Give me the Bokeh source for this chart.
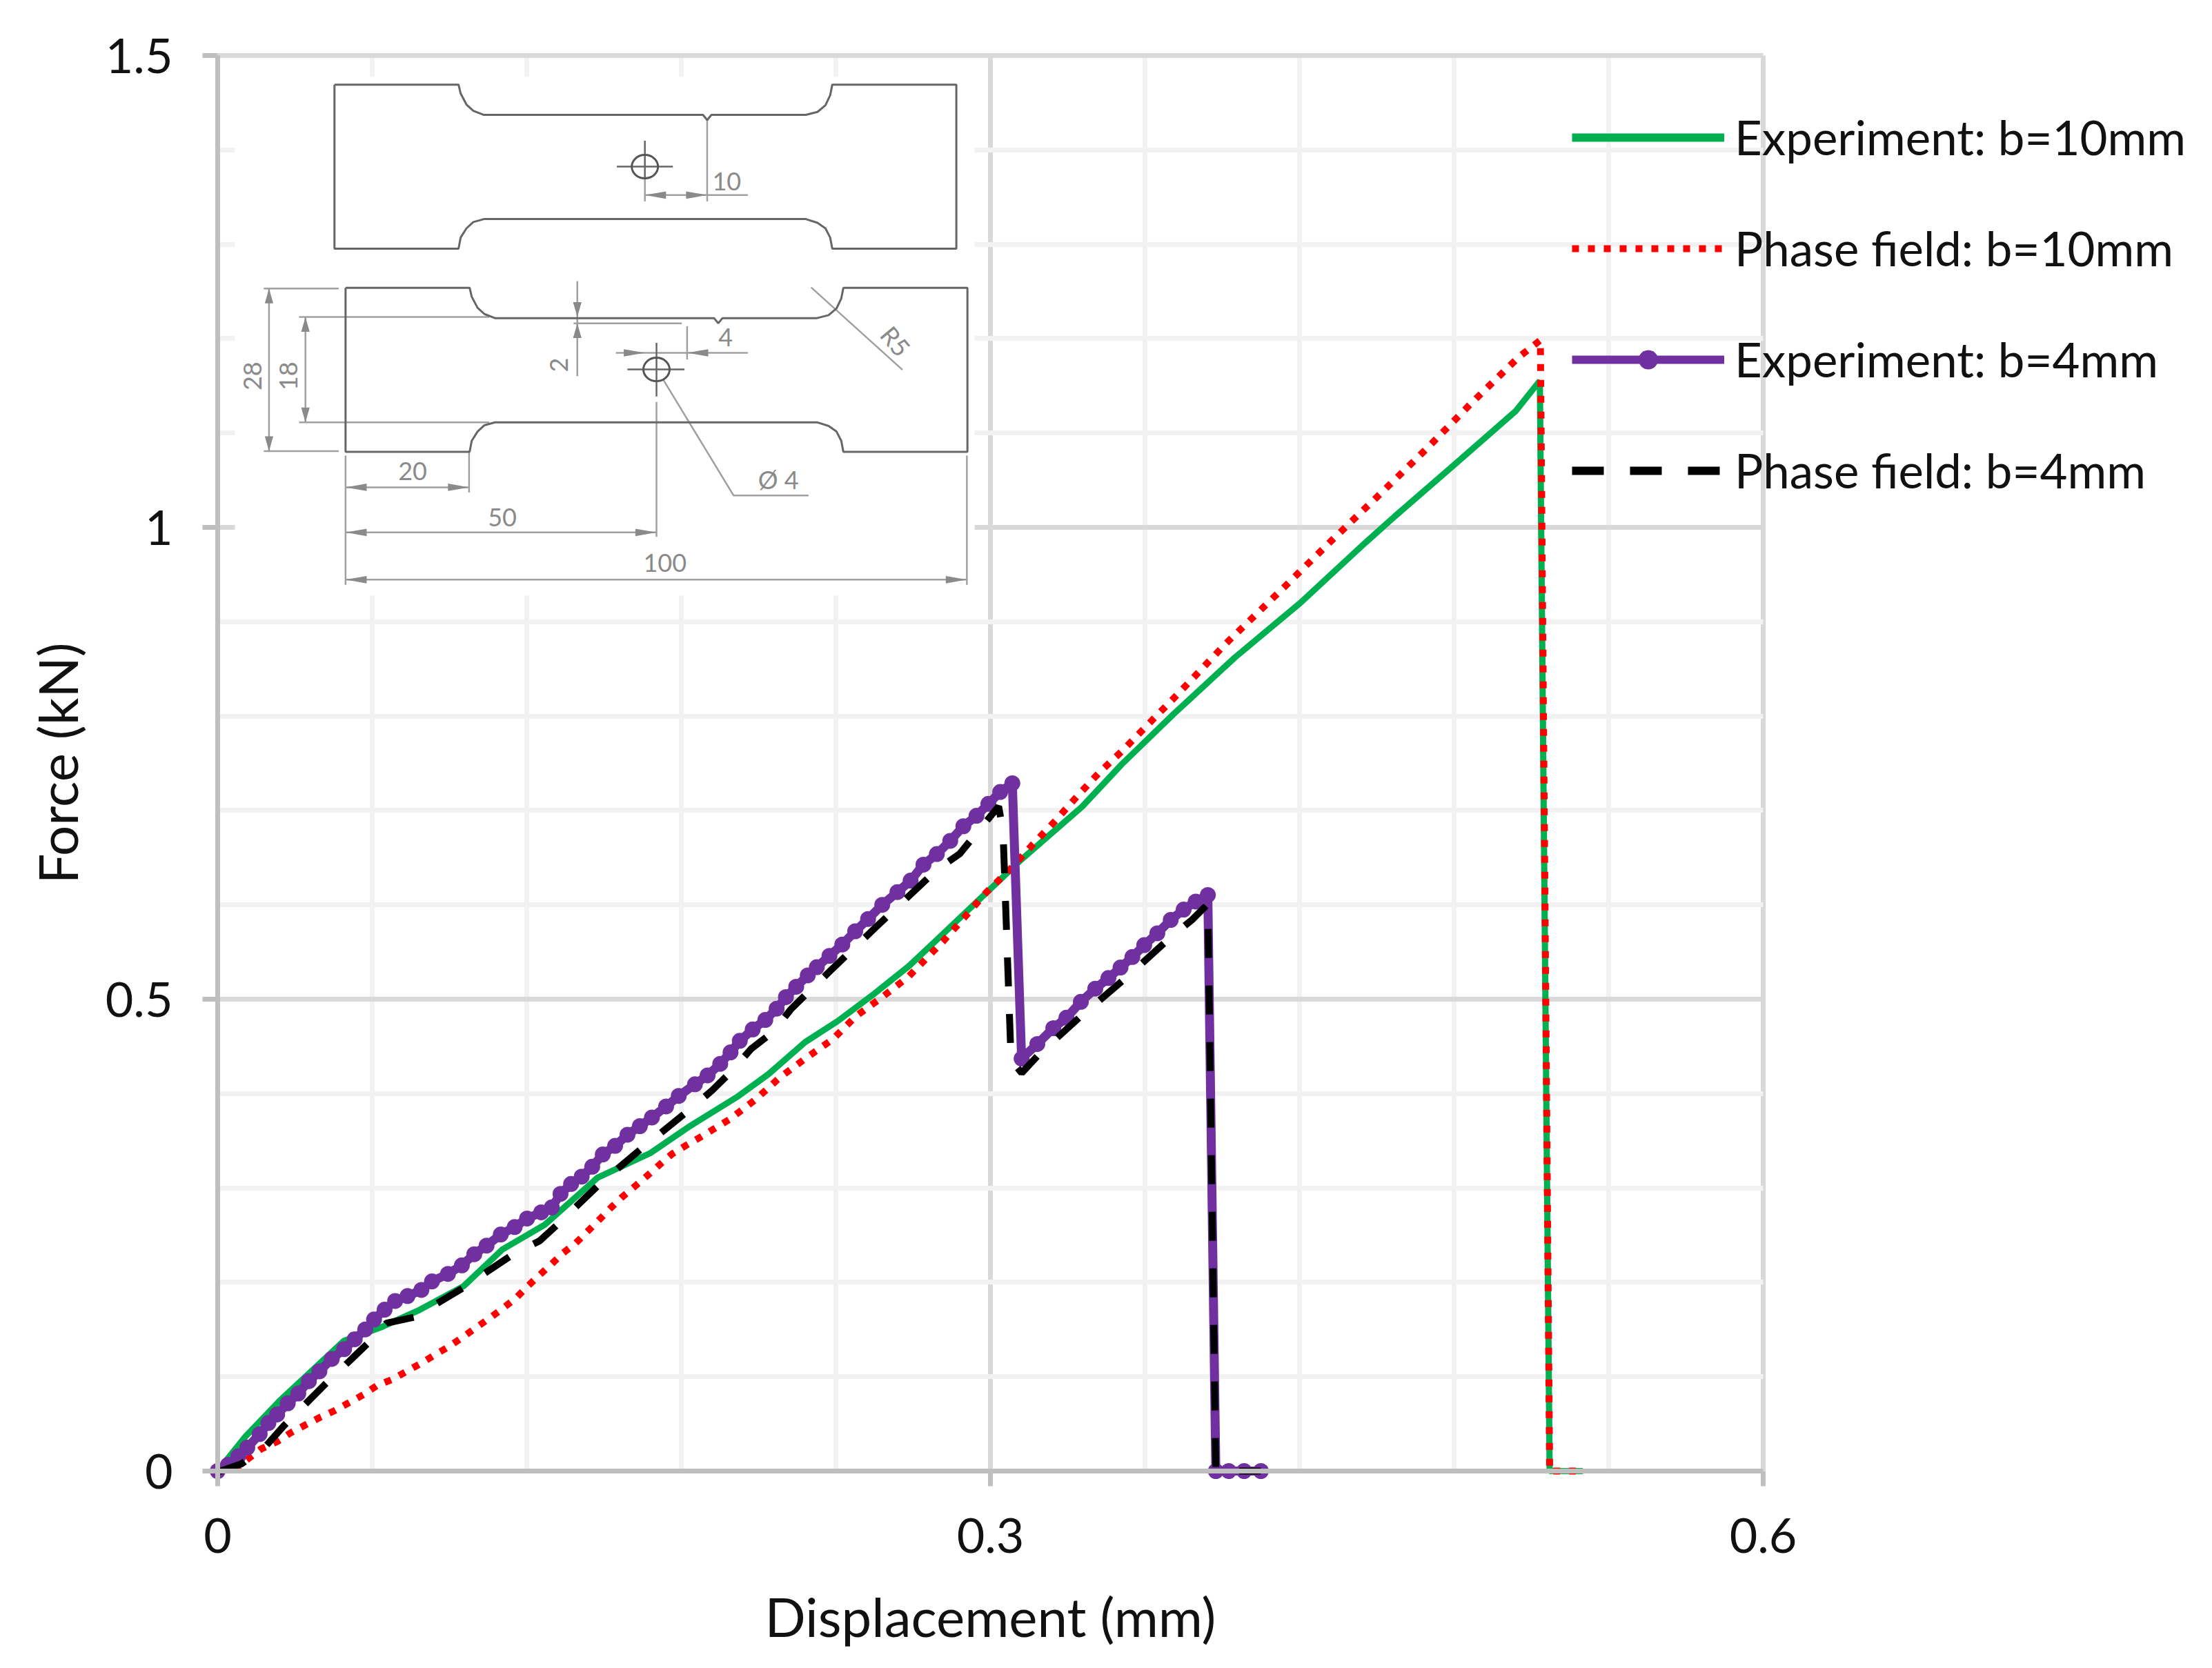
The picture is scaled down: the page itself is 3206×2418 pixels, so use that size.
from bokeh.plotting import figure
from bokeh.embed import file_html
from bokeh.resources import INLINE
from bokeh.models import FixedTicker, Legend, LegendItem, Range1d
from bokeh.core.properties import value
import math

FONT = "Lato"
x_ticks = [0, 0.3, 0.6]
x_minor = [0.06, 0.12, 0.18, 0.24, 0.36, 0.42, 0.48, 0.54]
y_ticks = [0, 0.5, 1, 1.5]
y_minor = [0.1, 0.2, 0.3, 0.4, 0.6, 0.7, 0.8, 0.9, 1.1, 1.2, 1.3, 1.4]
y_labels = {0: "0", 0.5: "0.5", 1: "1", 1.5: "1.5"}
x_labels = {0: "0", 0.3: "0.3", 0.6: "0.6"}

exp10_x = [0, .0108, .0245, .049, .064, .0778, .0955, .1106, .127, .1475, .168, .1835, .2014, .2138, .2281, .2406, .2549, .2683, .2800, .3120, .3356, .3510, .371, .3949, .4203, .4456, .4570, .4795, .5040, .5126, .5133, .5171, .530]
exp10_y = [0, .0366, .0757, .138, .153, .170, .196, .235, .261, .311, .337, .3658, .396, .4205, .4546, .4766, .5058, .535, .565, .648, .704, .749, .8019, .8621, .9200, .9839, 1.0117, 1.065, 1.1235, 1.153, 1.155, 0, 0]

pf10_x = [0, .008, .0169, .0231, .0283, .034, .0398, .0454, .0511, .0566, .0618, .0678, .0734, .0789, .0843, .0898, .0951, .1003, .1055, .1106, .1156, .1201, .1249, .1294, .1341, .139, .1436, .1481, .1525, .157, .1621, .1669, .1717, .1764, .1819, .1877, .1987, .2088, .2182, .2284, .2388, .2478, .2582, .2682, .2815, .29, .2984, .3078, .3161, .3251, .3335, .3421, .3513, .3603, .3736, .3911, .4141, .4322, .4506, .4688, .4867, .5050, .5135, .5171, .530]
pf10_y = [0, .005, .0235, .0313, .0405, .0488, .057, .064, .0726, .081, .0906, .0971, .1057, .1141, .1232, .1319, .1418, .152, .1619, .1723, .1828, .1953, .2076, .2188, .2311, .2415, .254, .2663, .2786, .2903, .3021, .3133, .325, .336, .3452, .3543, .3726, .3937, .417, .4376, .4576, .482, .5027, .524, .561, .587, .6133, .6381, .663, .6888, .7145, .7398, .7635, .7887, .8257, .8761, .9368, .9854, 1.0336, 1.0819, 1.1316, 1.1802, 1.1984, 0, 0]

exp4_x = [0, .004, .008, .0115, .0163, .0197, .0231, .0272, .0313, .0354, .0395, .0443, .0491, .0532, .0573, .0607, .0648, .0689, .0737, .0791, .0832, .0894, .0948, .0996, .1044, .1099, .1153, .1201, .1256, .1297, .1331, .1372, .1413, .1454, .1495, .1543, .1591, .1639, .1686, .1741, .1790, .1853, .1902, .1951, .1991, .2027, .2077, .2126, .2170, .2206, .2246, .2291, .2326, .2375, .2425, .2475, .2525, .2580, .2639, .269, .274, .2792, .2844, .2895, .2946, .2992, .3038, .3085, .3121, .3182, .3244, .3295, .3351, .3407, .3458, .3505, .3551, .3597, .3648, .37, .375, .3797, .3844, .3875, .3925, .3985, .405]
exp4_y = [0, .0065, .0157, .0248, .0392, .0509, .06, .0718, .0822, .0953, .1057, .1188, .1292, .1397, .1501, .1606, .171, .1802, .1854, .1919, .201, .2089, .218, .2298, .2389, .2507, .2585, .2676, .2742, .2794, .2937, .3042, .312, .3225, .3355, .3446, .3564, .3655, .3747, .3864, .3975, .4099, .4193, .4315, .4437, .4559, .468, .478, .49, .5022, .5132, .5253, .5339, .5459, .558, .572, .585, .600, .6135, .6257, .6426, .6538, .6678, .6833, .6944, .707, .7196, .7288, .4371, .4525, .4693, .4804, .4972, .5112, .5224, .5336, .5447, .5573, .5699, .584, .595, .6035, .6104, 0, 0, 0, 0]

pf4_x = [0, .0012, .0094, .019, .0258, .0415, .058, .0655, .0764, .0955, .114, .125, .1324, .1488, .1652, .183, .192, .1997, .2071, .2157, .2224, .2309, .2378, .2550, .2710, .2791, .288, .2951, .3032, .3049, .308, .3121, .3192, .3356, .3531, .3694, .3782, .3844, .3875, .405]
pf4_y = [0, 0, .0078, .0274, .0483, .0914, .1345, .1567, .1632, .1945, .2285, .244, .2624, .3055, .3433, .3825, .4035, .4242, .4474, .4656, .489, .5119, .530, .575, .6162, .637, .6539, .6776, .7043, .6776, .4357, .4218, .4426, .4832, .5238, .5643, .584, .6009, 0, 0]

outline = [(267,116),(502,116),(506,140),(517,170),(530,187),(550,198),(965,198),(973,212),(981,198),(1160,198),(1182,190),(1197,172),(1206,145),(1210,116),(1445,116),(1445,560),(1210,560),(1206,530),(1197,505),(1182,490),(1160,480),(550,480),(530,488),(517,505),(506,530),(502,560),(267,560),(267,116)]
lower_shift = (21, 550)
dim_lines = [
 [(973,212),(973,432)], [(855,415),(1050,415)], [(855,370),(855,432)],
 [(877,975),(877,1340)],
 [(133,668),(275,668)], [(133,1108),(275,1108)], [(143,668),(143,1108)],
 [(200,745),(560,745)], [(200,1030),(560,1030)], [(212,745),(212,1030)],
 [(727,648),(727,905)], [(720,762),(925,762)],
 [(800,842),(1050,842)], [(935,770),(935,860)],
 [(1170,665),(1343,888)], [(890,915),(1023,1228),(1165,1228)],
 [(288,1120),(288,1470)], [(522,1110),(522,1220)], [(288,1206),(522,1206)],
 [(288,1328),(877,1328)], [(288,1456),(1465,1456)], [(1465,1120),(1465,1470)],
]
cross_lines = [[(802,338),(908,338)], [(855,268),(855,370)], [(822,887),(930,887)], [(877,815),(877,960)]]
holes = [(855,338), (877,887)]
arrows_h = [(855,415,1),(973,415,-1),(855,842,-1),(935,842,1),(288,1206,1),(522,1206,-1),(288,1328,1),(877,1328,-1),(288,1456,1),(1465,1456,-1)]
arrows_v = [(143,668,1),(143,1108,-1),(212,745,1),(212,1030,-1),(727,745,-1),(727,762,1)]
inset_text = [("10",1010,378,0),("28",112,905,90),("18",180,905,90),("2",692,875,90),("4",1008,800,0),("R5",1330,810,-50),("20",415,1163,0),("50",585,1287,0),("100",893,1410,0),("Ø 4",1108,1185,0)]

PX_X = 2240 / 0.6
PX_Y = 2052 / 1.5
def dx(X): return (280 + X / 1.307 - 315) / PX_X
def dy(Y): return (2132 - 60 - Y / 1.867) / PX_Y

W, H = 3190, 2402
LEFT, BOTTOM = 315, 270
p = figure(width=W, height=H, output_backend="svg", toolbar_location=None,
           x_range=Range1d(-LEFT / PX_X, (W - LEFT) / PX_X), y_range=Range1d(-BOTTOM / PX_Y, (H - BOTTOM) / PX_Y),
           min_border=0, x_axis_label="Displacement (mm)", y_axis_label="Force (kN)")
p.outline_line_color = None
p.background_fill_color = "white"

for ax, ticks, minor, labels, rng in ((p.xaxis[0], x_ticks, x_minor, x_labels, (0, .6)), (p.yaxis[0], y_ticks, y_minor, y_labels, (0, 1.5))):
    ax.ticker = FixedTicker(ticks=ticks, minor_ticks=minor)
    ax.major_label_overrides = labels
    ax.major_label_text_font = FONT
    ax.major_label_text_font_size = "70px"
    ax.major_label_text_color = "#111111"
    ax.axis_label_text_font = FONT
    ax.axis_label_text_font_size = "78px"
    ax.axis_label_text_font_style = "normal"
    ax.axis_label_text_color = "#111111"
    ax.axis_line_color = "#BFBFBF"
    ax.axis_line_width = 7
    ax.major_tick_line_color = "#BFBFBF"
    ax.major_tick_line_width = 7
    ax.major_tick_out = 22
    ax.major_tick_in = 0
    ax.minor_tick_line_color = None
    ax.fixed_location = 0
    ax.bounds = rng
p.xaxis[0].major_label_standoff = 46
p.xaxis[0].axis_label_standoff = 42
p.yaxis[0].major_label_standoff = 43
p.yaxis[0].axis_label_standoff = 20

for g, ticks, minor, rng, cross in ((p.xgrid[0], x_ticks, x_minor, (0, .6), (0, 1.5)), (p.ygrid[0], y_ticks, y_minor, (0, 1.5), (0, .6))):
    g.ticker = FixedTicker(ticks=ticks, minor_ticks=minor)
    g.grid_line_color = "#D9D9D9"
    g.grid_line_width = 7
    g.minor_grid_line_color = "#F2F2F2"
    g.minor_grid_line_width = 7
    g.bounds = rng
    g.cross_bounds = cross

p.quad(left=[(340 - 315) / PX_X], right=[(1412 - 315) / PX_X], top=[(2132 - 111) / PX_Y], bottom=[(2132 - 863) / PX_Y],
       fill_color="white", line_color=None)

def xs(pts, sx=0): return [dx(a + sx) for a, b in pts]
def ys(pts, sy=0): return [dy(b + sy) for a, b in pts]

p.multi_line([xs(l) for l in dim_lines], [ys(l) for l in dim_lines], line_color="#A0A0A0", line_width=2.5)
p.multi_line([xs(outline), xs(outline, lower_shift[0])], [ys(outline), ys(outline, lower_shift[1])], line_color="#666666", line_width=3)
p.multi_line([xs(l) for l in cross_lines], [ys(l) for l in cross_lines], line_color="#666666", line_width=2.5)
p.ellipse([dx(a) for a, b in holes], [dy(b) for a, b in holes], width=38 / PX_X, height=34 / PX_Y,
          fill_color=None, line_color="#555555", line_width=3)

tri_x, tri_y = [], []
for a, b, s in arrows_h:
    tri_x.append([dx(a), dx(a + s * 40), dx(a + s * 40)])
    tri_y.append([dy(b), dy(b - 10), dy(b + 10)])
for a, b, s in arrows_v:
    tri_x.append([dx(a), dx(a - 8), dx(a + 8)])
    tri_y.append([dy(b), dy(b + s * 40), dy(b + s * 40)])
p.patches(tri_x, tri_y, fill_color="#8A8A8A", line_color=None)

p.text([dx(t[1]) for t in inset_text], [dy(t[2]) for t in inset_text], text=[t[0] for t in inset_text],
       angle=[math.radians(t[3]) for t in inset_text], text_font=value(FONT), text_font_size="36px",
       text_color="#8A8A8A", text_align="center", text_baseline="middle")

p.line(exp10_x, exp10_y, line_color="#00B050", line_width=9)
p.line(pf10_x, pf10_y, line_color="#FF0000", line_width=10, line_dash="10 13")
p.line(exp4_x, exp4_y, line_color="#7030A0", line_width=13)
p.scatter(exp4_x, exp4_y, size=23, marker="circle", fill_color="#7030A0", line_color=None)
p.line(pf4_x, pf4_y, line_color="#000000", line_width=10, line_dash="42 40")

nan = float("nan")
k1 = p.line([nan], [nan], line_color="#00B050", line_width=12)
k2 = p.line([nan], [nan], line_color="#FF0000", line_width=10, line_dash="10 13")
k3 = p.line([nan], [nan], line_color="#7030A0", line_width=12)
k3b = p.scatter([nan], [nan], size=22, marker="circle", fill_color="#7030A0", line_color=None)
k4 = p.line([nan], [nan], line_color="#000000", line_width=12, line_dash="46 38")
legend = Legend(items=[LegendItem(label="Experiment: b=10mm", renderers=[k1]),
                       LegendItem(label="Phase field: b=10mm", renderers=[k2]),
                       LegendItem(label="Experiment: b=4mm", renderers=[k3, k3b]),
                       LegendItem(label="Phase field: b=4mm", renderers=[k4])],
                location=(2278, H - 723), orientation="vertical", padding=0, margin=0, spacing=78,
                glyph_width=221, glyph_height=70, label_height=70, label_standoff=15,
                label_text_font=FONT, label_text_font_size="69px", label_text_color="#111111",
                background_fill_alpha=0, border_line_color=None)
p.add_layout(legend)

open("out.html", "w").write(file_html(p, INLINE))
